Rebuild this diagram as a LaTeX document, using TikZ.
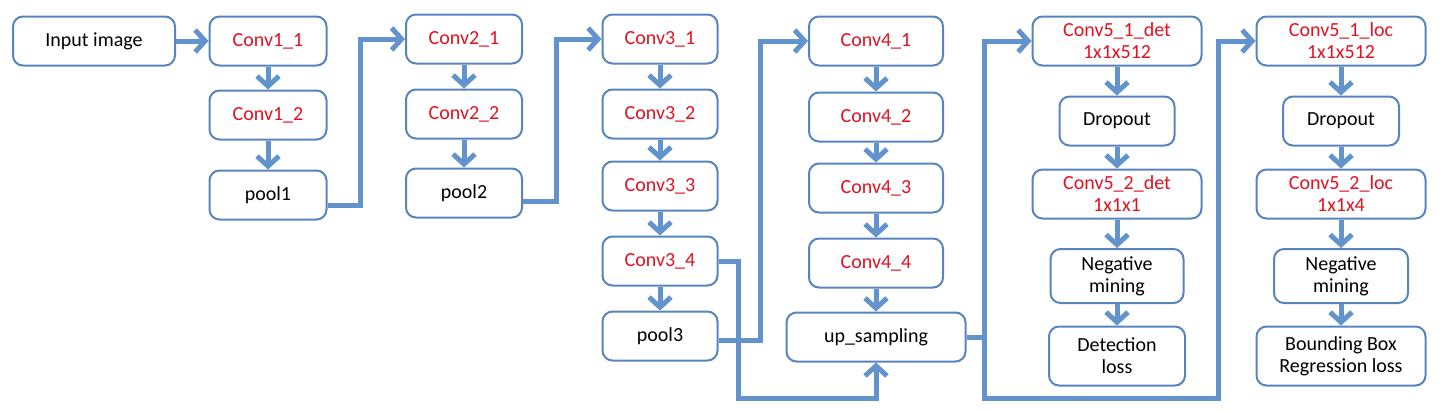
\documentclass[tikz,border=0pt]{standalone}
\usepackage{fontspec}
\setmainfont{Carlito}
\usetikzlibrary{arrows.meta, positioning}
\definecolor{boxblue}{RGB}{88,132,190}
\definecolor{flowblue}{RGB}{98,147,205}
\definecolor{layerred}{RGB}{226,18,34}
\tikzset{
    block/.style={draw=boxblue, line width=1pt, rounded corners=5pt, fill=white, align=center,
        font=\fontsize{10}{11}\selectfont, minimum height=24.5pt, inner sep=1pt}, % scatole nere
    layer/.style={block, text=layerred}, % strati convolutivi in rosso
    flow/.style={->, draw=flowblue, line width=2.5pt},
    >={Straight Barb[length=5pt, width=11pt]},
}

\begin{document}
\begin{tikzpicture}[x=0.5pt, y=-0.5pt, on grid]
    \useasboundingbox (0,0) rectangle (1440,409);

    % Blocco 1
    \node[block, minimum width=81pt] (inp) at (94,41) {Input image};
    \node[layer, minimum width=58.5pt] (c11) at (268,41) {Conv1\_1};
    \node[layer, minimum width=58.5pt] (c12) [below=37pt of c11] {Conv1\_2};
    \node[block, minimum width=58.5pt] (p1) [below=40pt of c12] {pool1};

    % Blocco 2
    \node[layer, minimum width=58pt] (c21) at (464,39) {Conv2\_1};
    \node[layer, minimum width=58pt] (c22) [below=37.5pt of c21] {Conv2\_2};
    \node[block, minimum width=58pt] (p2) [below=39.5pt of c22] {pool2};

    % Blocco 3
    \node[layer, minimum width=57.5pt] (c31) at (660,39) {Conv3\_1};
    \node[layer, minimum width=57.5pt] (c32) [below=37.5pt of c31] {Conv3\_2};
    \node[layer, minimum width=57.5pt] (c33) [below=36pt of c32] {Conv3\_3};
    \node[layer, minimum width=57.5pt] (c34) [below=37.5pt of c33] {Conv3\_4};
    \node[block, minimum width=57.5pt] (p3) [below=37.5pt of c34] {pool3};

    % Blocco 4
    \node[layer, minimum width=67pt] (c41) at (876,41) {Conv4\_1};
    \node[layer, minimum width=67pt] (c42) [below=38pt of c41] {Conv4\_2};
    \node[layer, minimum width=67pt] (c43) [below=35.5pt of c42] {Conv4\_3};
    \node[layer, minimum width=67pt] (c44) [below=37.5pt of c43] {Conv4\_4};
    \node[block, minimum width=89.5pt] (up) [below=37pt of c44] {up\_sampling};

    % Rilevamento
    \node[layer, minimum width=84.5pt] (c51d) at (1117,41) {Conv5\_1\_det\\1x1x512};
    \node[block, minimum width=57.5pt] (dod) [below=40pt of c51d] {Dropout};
    \node[layer, minimum width=84.5pt] (c52d) [below=36.5pt of dod] {Conv5\_2\_det\\1x1x1};
    \node[block, minimum width=66.5pt, minimum height=27pt] (nmd) [below=41pt of c52d] {Negative\\mining};
    \node[block, minimum width=68pt, minimum height=29.5pt] (lsd) [below=40pt of nmd] {Detection\\loss};

    % Localizzazione
    \node[layer, minimum width=84.5pt] (c51l) at (1341,41) {Conv5\_1\_loc\\1x1x512};
    \node[block, minimum width=58pt] (dol) [below=40pt of c51l] {Dropout};
    \node[layer, minimum width=84.5pt] (c52l) [below=36.5pt of dol] {Conv5\_2\_loc\\1x1x4};
    \node[block, minimum width=67pt, minimum height=27pt] (nml) [below=41pt of c52l] {Negative\\mining};
    \node[block, minimum width=84.5pt, minimum height=29.5pt] (lsl) [below=40pt of nml] {Bounding Box\\Regression loss};

    % Frecce
    \draw[flow] (inp) -- (c11);
    \draw[flow] (c11) -- (c12);
    \draw[flow] (c12) -- (p1);
    \draw[flow] ([yshift=-5pt]p1.east) -- ++(33,0) |- (c21.west);
    \draw[flow] (c21) -- (c22);
    \draw[flow] (c22) -- (p2);
    \draw[flow] ([yshift=-4pt]p2.east) -- ++(33,0) |- (c31.west);
    \draw[flow] (c31) -- (c32);
    \draw[flow] (c32) -- (c33);
    \draw[flow] (c33) -- (c34);
    \draw[flow] (c34) -- (p3);
    \draw[flow] ([yshift=-2pt]p3.east) -- ++(42,0) |- (c41.west);
    \draw[flow] (c34.east) -| ++(20,137) -| (up.south);
    \draw[flow] (c41) -- (c42);
    \draw[flow] (c42) -- (c43);
    \draw[flow] (c43) -- (c44);
    \draw[flow] (c44) -- (up);
    \draw[flow] (up.east) -- ++(18,0) |- (c51d.west);
    \draw[flow] (up.east) -| ++(18,61) -| ([xshift=-18.5pt]c51l.west) -- (c51l.west);
    \draw[flow] (c51d) -- (dod);
    \draw[flow] (dod) -- (c52d);
    \draw[flow] (c52d) -- (nmd);
    \draw[flow] (nmd) -- (lsd);
    \draw[flow] (c51l) -- (dol);
    \draw[flow] (dol) -- (c52l);
    \draw[flow] (c52l) -- (nml);
    \draw[flow] (nml) -- (lsl);
\end{tikzpicture}
\end{document}
